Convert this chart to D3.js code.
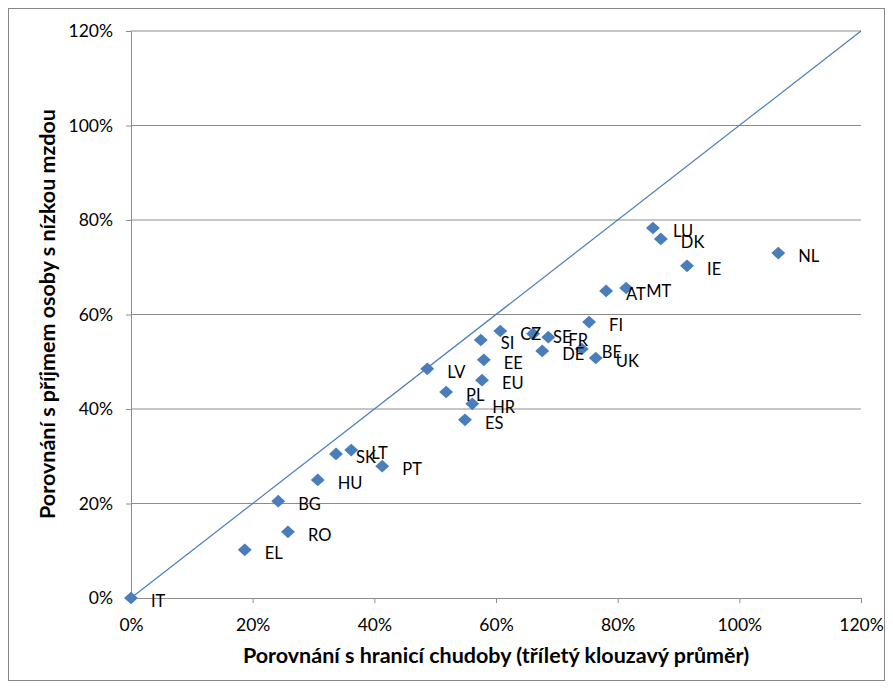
<!DOCTYPE html>
<html><head><meta charset="utf-8">
<script src="https://cdn.jsdelivr.net/npm/d3@7"></script>
<style>body{margin:0;background:#fff;} text{font-family:Lato,"Open Sans",sans-serif;}</style>
</head><body>
<svg id="c" width="893" height="688"></svg>
<script>
const countries = ["IT","EL","RO","BG","HU","SK","LT","PT","LV","PL","HR","ES","EU","EE","SI","CZ","SE","FR","DE","BE","UK","FI","AT","MT","IE","LU","DK","NL"];
const povertyLine = [0,18.7,25.8,24.2,30.7,33.7,36.2,41.3,48.7,51.8,56.1,54.9,57.7,58.0,57.5,60.7,66.1,68.6,67.6,74.1,76.4,75.3,78.1,81.4,91.4,85.8,87.1,106.4];
const lowWage = [0,10.2,14.0,20.5,25.0,30.5,31.3,27.9,48.5,43.6,41.1,37.7,46.1,50.4,54.6,56.5,55.9,55.2,52.3,52.7,50.8,58.4,65.0,65.6,70.3,78.3,76.0,73.0];
const ticks = [0,20,40,60,80,100,120];
const xTitle = "Porovnání s hranicí chudoby (tříletý klouzavý průměr)";
const yTitle = "Porovnání s příjmem osoby s nízkou mzdou";

const svg = d3.select("#c");
const L=131,R=861,T=31,B=598;
const x = d3.scaleLinear().domain([0,120]).range([L,R]);
const y = d3.scaleLinear().domain([0,120]).range([B,T]);
const blue = "#4a7ebb";

svg.append("rect").attr("x",8.5).attr("y",8.5).attr("width",876).attr("height",672)
  .attr("fill","none").attr("stroke","#878787");

// gridlines
svg.append("g").selectAll("line").data(ticks.filter(d=>d>0)).join("line")
  .attr("x1",L).attr("x2",R).attr("y1",d=>y(d)).attr("y2",d=>y(d))
  .attr("stroke","#8c8c8c").attr("stroke-width",1);

const fmt = d=>d+"%";
const gx = svg.append("g").attr("transform",`translate(0,${B})`)
  .call(d3.axisBottom(x).tickValues(ticks).tickFormat(fmt).tickSize(5).tickPadding(16));
const gy = svg.append("g").attr("transform",`translate(${L},0)`)
  .call(d3.axisLeft(y).tickValues(ticks).tickFormat(fmt).tickSize(5).tickPadding(13));
[gx,gy].forEach(g=>{
  g.select(".domain").attr("stroke","#8c8c8c");
  g.selectAll(".tick line").attr("stroke","#8c8c8c");
  g.selectAll("text").attr("font-size",17.5).attr("fill","#000").attr("font-family","Lato, sans-serif");
});

// diagonal y=x
svg.append("line").attr("x1",x(0)).attr("y1",y(0)).attr("x2",x(120)).attr("y2",y(120))
  .attr("stroke",blue).attr("stroke-width",1.2);

const data = countries.map((c,i)=>({c,px:povertyLine[i],lw:lowWage[i]}));
const sym = d3.symbol().type(d3.symbolSquare).size(80);
svg.append("g").selectAll("path").data(data).join("path")
  .attr("d",sym).attr("transform",d=>`translate(${x(d.px)},${y(d.lw)}) scale(1.1,1) rotate(45)`)
  .attr("fill",blue);

svg.append("g").selectAll("text").data(data).join("text")
  .attr("x",d=>x(d.px)+20).attr("y",d=>y(d.lw)+9)
  .attr("font-size",16.5).attr("fill","#000").text(d=>d.c);

svg.append("text").attr("x",496).attr("y",663).attr("text-anchor","middle")
  .attr("font-size",21.5).attr("font-weight","bold").text(xTitle);
svg.append("text").attr("transform","translate(55,314) rotate(-90)").attr("text-anchor","middle")
  .attr("font-size",21.5).attr("font-weight","bold").text(yTitle);
</script>
</body></html>
